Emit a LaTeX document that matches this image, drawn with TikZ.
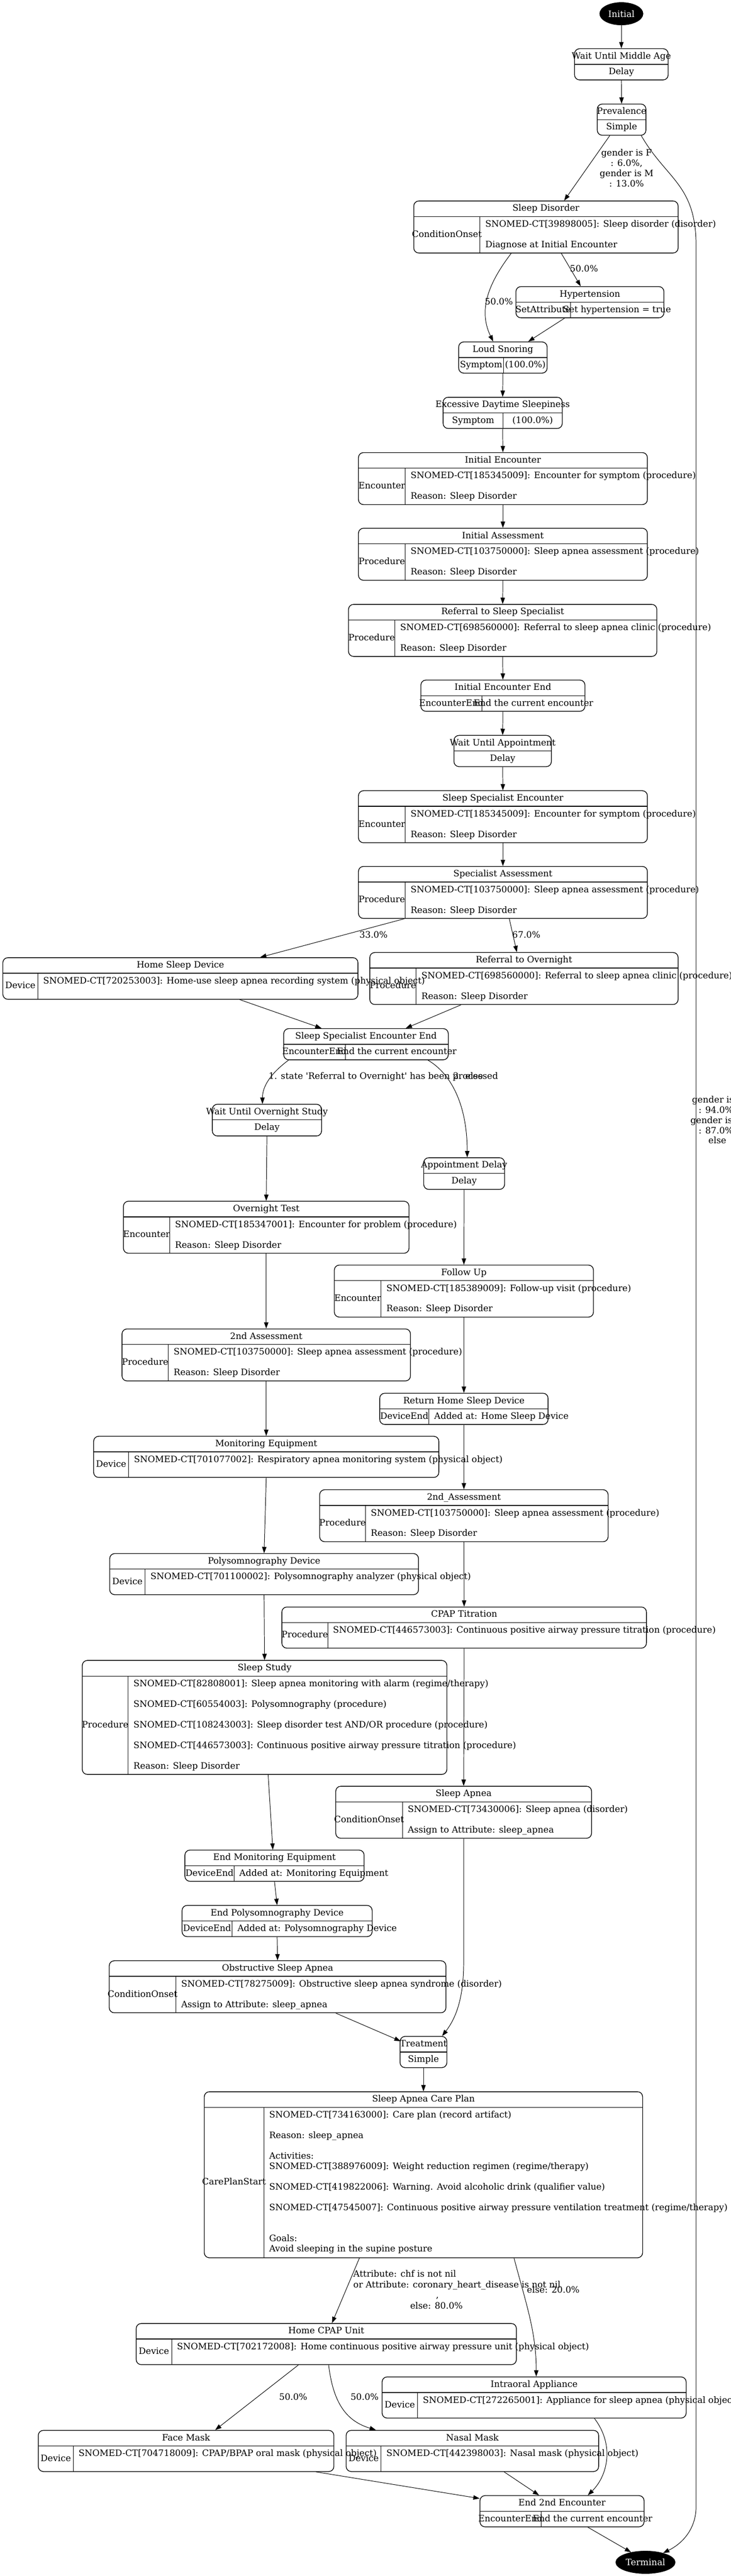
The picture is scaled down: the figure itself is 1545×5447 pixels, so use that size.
\documentclass[tikz,border=0pt]{standalone}
\usepackage{fontspec}
\setmainfont{DejaVu Serif}
\usetikzlibrary{arrows.meta,shapes.geometric,calc}
\tikzset{
 recbox/.style={draw, line width=1.1pt, rounded corners=8pt, inner sep=0pt},
 divline/.style={line width=1.1pt},
 vline/.style={line width=0.8pt},
 txt/.style={inner sep=0pt, text height=10.5pt, text depth=3pt},
 lbl/.style={inner sep=0pt, align=center},
 edge/.style={draw, line width=0.8pt, -{Triangle[length=10pt,width=7pt]}},
 termnode/.style={ellipse, draw=black, fill=black, text=white, inner sep=0pt, minimum height=36pt},
}
% name x1 y1 x2 y2 title body
\newcommand\recA[7]{%
 \node[recbox, minimum width={(#4-#2)*0.75pt}, minimum height={(#5-#3)*0.75pt}] (#1) at ({(#2+#4)/2},{(#3+#5)/2}) {};
 \draw[divline] (#2,{#3+33}) -- (#4,{#3+33});
 \node[txt] at ({(#2+#4)/2},{#3+16.5}) {#6};
 \node[txt] at ({(#2+#4)/2},{(#3+33+#5)/2}) {#7};
}
% name x1 y1 x2 y2 xdiv title left right(centred)
\newcommand\recB[9]{%
 \node[recbox, minimum width={(#4-#2)*0.75pt}, minimum height={(#5-#3)*0.75pt}] (#1) at ({(#2+#4)/2},{(#3+#5)/2}) {};
 \draw[divline] (#2,{#3+33}) -- (#4,{#3+33});
 \draw[vline] (#6,{#3+33}) -- (#6,#5);
 \node[txt] at ({(#2+#4)/2},{#3+16.5}) {#7};
 \node[txt] at ({(#2+#6)/2},{(#3+33+#5)/2}) {#8};
 \node[txt] at ({(#6+#4)/2},{(#3+33+#5)/2}) {#9};
}
% name x1 y1 x2 y2 xdiv title left rightlines(left aligned)
\newcommand\recC[9]{%
 \node[recbox, minimum width={(#4-#2)*0.75pt}, minimum height={(#5-#3)*0.75pt}] (#1) at ({(#2+#4)/2},{(#3+#5)/2}) {};
 \draw[divline] (#2,{#3+33}) -- (#4,{#3+33});
 \draw[vline] (#6,{#3+33}) -- (#6,#5);
 \node[txt] at ({(#2+#4)/2},{#3+16.5}) {#7};
 \node[txt] at ({(#2+#6)/2},{(#3+33+#5)/2}) {#8};
 \foreach \rline [count=\ri from 0] in {#9} {
   \node[txt, anchor=west] at ({#6+11},{#3+50+\ri*21.75}) {\rline};
 }
}
\begin{document}
\begin{tikzpicture}[x=0.75pt, y=-0.75pt, font=\fontsize{14pt}{16.3pt}\selectfont]
\useasboundingbox (0,0) rectangle (1545,5447);
\fill[white] (0,0) rectangle (1545,5447);

\node[termnode, minimum width=69pt] (Init) at (1314,29) {Initial};
\recA{Wmid}{1215}{103}{1413}{169}{Wait Until Middle Age}{Delay}
\recA{Prev}{1263}{220}{1366}{286}{Prevalence}{Simple}
\recC{SD}{875}{425}{1434}{535}{1015}{Sleep Disorder}{ConditionOnset}{{SNOMED-CT[39898005]: Sleep disorder (disorder)},{},{Diagnose at Initial Encounter}}
\recB{Hyp}{1091}{606}{1404}{672}{1206}{Hypertension}{SetAttribute}{Set hypertension = true}
\recB{LS}{970}{723}{1157}{789}{1065}{Loud Snoring}{Symptom}{(100.0\%)}
\recB{EDS}{937}{840}{1189}{906}{1064}{Excessive Daytime Sleepiness}{Symptom}{(100.0\%)}
\recC{IE}{758}{957}{1369}{1067}{857}{Initial Encounter}{Encounter}{{SNOMED-CT[185345009]: Encounter for symptom (procedure)},{},{Reason: Sleep Disorder}}
\recC{IA}{758}{1117}{1369}{1227}{857}{Initial Assessment}{Procedure}{{SNOMED-CT[103750000]: Sleep apnea assessment (procedure)},{},{Reason: Sleep Disorder}}
\recC{RSS}{737}{1278}{1389}{1388}{835}{Referral to Sleep Specialist}{Procedure}{{SNOMED-CT[698560000]: Referral to sleep apnea clinic (procedure)},{},{Reason: Sleep Disorder}}
\recB{IEE}{890}{1438}{1237}{1504}{1019}{Initial Encounter End}{EncounterEnd}{End the current encounter}
\recA{WA}{960}{1555}{1166}{1621}{Wait Until Appointment}{Delay}
\recC{SSE}{758}{1672}{1369}{1782}{857}{Sleep Specialist Encounter}{Encounter}{{SNOMED-CT[185345009]: Encounter for symptom (procedure)},{},{Reason: Sleep Disorder}}
\recC{SpA}{758}{1832}{1369}{1942}{857}{Specialist Assessment}{Procedure}{{SNOMED-CT[103750000]: Sleep apnea assessment (procedure)},{},{Reason: Sleep Disorder}}
\recC{HSD}{6}{2025}{757}{2113}{80}{Home Sleep Device}{Device}{{SNOMED-CT[720253003]: Home-use sleep apnea recording system (physical object)}}
\recC{RO}{782}{2014}{1434}{2124}{880}{Referral to Overnight}{Procedure}{{SNOMED-CT[698560000]: Referral to sleep apnea clinic (procedure)},{},{Reason: Sleep Disorder}}
\recB{SSEE}{600}{2175}{948}{2241}{730}{Sleep Specialist Encounter End}{EncounterEnd}{End the current encounter}
\recA{WOS}{449}{2335}{680}{2402}{Wait Until Overnight Study}{Delay}
\recA{AD}{896}{2448}{1067}{2515}{Appointment Delay}{Delay}
\recC{OT}{261}{2540}{865}{2650}{359}{Overnight Test}{Encounter}{{SNOMED-CT[185347001]: Encounter for problem (procedure)},{},{Reason: Sleep Disorder}}
\recC{FU}{707}{2675}{1255}{2785}{806}{Follow Up}{Encounter}{{SNOMED-CT[185389009]: Follow-up visit (procedure)},{},{Reason: Sleep Disorder}}
\recC{SecA}{258}{2810}{868}{2920}{356}{2nd Assessment}{Procedure}{{SNOMED-CT[103750000]: Sleep apnea assessment (procedure)},{},{Reason: Sleep Disorder}}
\recC{RHSD}{803}{2946}{1159}{3012}{907}{Return Home Sleep Device}{DeviceEnd}{{Added at: Home Sleep Device}}
\recC{ME}{198}{3037}{928}{3124}{272}{Monitoring Equipment}{Device}{{SNOMED-CT[701077002]: Respiratory apnea monitoring system (physical object)}}
\recC{SecAu}{676}{3150}{1286}{3260}{773}{2nd\_Assessment}{Procedure}{{SNOMED-CT[103750000]: Sleep apnea assessment (procedure)},{},{Reason: Sleep Disorder}}
\recC{PD}{232}{3285}{885}{3372}{307}{Polysomnography Device}{Device}{{SNOMED-CT[701100002]: Polysomnography analyzer (physical object)}}
\recC{CPAP}{596}{3398}{1367}{3485}{693}{CPAP Titration}{Procedure}{{SNOMED-CT[446573003]: Continuous positive airway pressure titration (procedure)}}
\recC{SS}{174}{3511}{945}{3752}{271}{Sleep Study}{Procedure}{{SNOMED-CT[82808001]: Sleep apnea monitoring with alarm (regime/therapy)},{},{SNOMED-CT[60554003]: Polysomnography (procedure)},{},{SNOMED-CT[108243003]: Sleep disorder test AND/OR procedure (procedure)},{},{SNOMED-CT[446573003]: Continuous positive airway pressure titration (procedure)},{},{Reason: Sleep Disorder}}
\recC{SAp}{710}{3777}{1251}{3887}{851}{Sleep Apnea}{ConditionOnset}{{SNOMED-CT[73430006]: Sleep apnea (disorder)},{},{Assign to Attribute: sleep\_apnea}}
\recC{EME}{391}{3912}{770}{3978}{495}{End Monitoring Equipment}{DeviceEnd}{{Added at: Monitoring Equipment}}
\recC{EPD}{385}{4029}{787}{4095}{491}{End Polysomnography Device}{DeviceEnd}{{Added at: Polysomnography Device}}
\recC{OSA}{231}{4146}{943}{4256}{372}{Obstructive Sleep Apnea}{ConditionOnset}{{SNOMED-CT[78275009]: Obstructive sleep apnea syndrome (disorder)},{},{Assign to Attribute: sleep\_apnea}}
\recA{Tr}{846}{4306}{945}{4372}{Treatment}{Simple}
\recC{CP}{432}{4423}{1359}{4774}{558}{Sleep Apnea Care Plan}{CarePlanStart}{{SNOMED-CT[734163000]: Care plan (record artifact)},{},{Reason: sleep\_apnea},{},{Activities:},{SNOMED-CT[388976009]: Weight reduction regimen (regime/therapy)},{},{SNOMED-CT[419822006]: Warning. Avoid alcoholic drink (qualifier value)},{},{SNOMED-CT[47545007]: Continuous positive airway pressure ventilation treatment (regime/therapy)},{},{},{Goals:},{Avoid sleeping in the supine posture}}
\recC{HC}{288}{4913}{1092}{5000}{363}{Home CPAP Unit}{Device}{{SNOMED-CT[702172008]: Home continuous positive airway pressure unit (physical object)}}
\recC{IOA}{808}{5026}{1451}{5113}{883}{Intraoral Appliance}{Device}{{SNOMED-CT[272265001]: Appliance for sleep apnea (physical object)}}
\recC{FM}{81}{5139}{706}{5226}{155}{Face Mask}{Device}{{SNOMED-CT[704718009]: CPAP/BPAP oral mask (physical object)}}
\recC{NM}{732}{5139}{1266}{5226}{806}{Nasal Mask}{Device}{{SNOMED-CT[442398003]: Nasal mask (physical object)}}
\recB{E2}{1015}{5277}{1362}{5343}{1144}{End 2nd Encounter}{EncounterEnd}{End the current encounter}
\node[termnode, minimum width=94.5pt] (Term) at (1365,5418) {Terminal};

% connectors
\draw[edge] (Init.south) -- (Wmid.north);
\draw[edge] (Wmid.south) -- (Prev.north);
\draw[edge] ($(Prev.south)+(-25,0)$) -- ($(SD.north)+(38.5,0)$);
\draw[edge] ($(Prev.south)+(41.5,0)$) .. controls (1410,380) and (1472,390) .. (1472,520) -- (1472,5300) .. controls (1472,5350) and (1440,5380) .. (Term.28);
\draw[edge] ($(SD.south)+(-73.5,0)$) .. controls (1040,590) and (1008,650) .. ($(LS.north)+(-20.5,0)$);
\draw[edge] ($(SD.south)+(32.5,0)$) -- ($(Hyp.north)+(-19.5,0)$);
\draw[edge] ($(Hyp.south)+(-53.5,0)$) -- ($(LS.north)+(53.5,0)$);
\draw[edge] (LS.south) -- (EDS.north);
\draw[edge] (EDS.south) -- (IE.north);
\draw[edge] (IE.south) -- (IA.north);
\draw[edge] (IA.south) -- (RSS.north);
\draw[edge] (RSS.south) -- (IEE.north);
\draw[edge] (IEE.south) -- (WA.north);
\draw[edge] (WA.south) -- (SSE.north);
\draw[edge] (SSE.south) -- (SpA.north);
\draw[edge] ($(SpA.south)+(-208.5,0)$) -- ($(HSD.north)+(168.5,0)$);
\draw[edge] ($(SpA.south)+(13.5,0)$) -- ($(RO.north)+(-15,0)$);
\draw[edge] ($(HSD.south)+(125.5,0)$) -- ($(SSEE.north)+(-94,0)$);
\draw[edge] ($(RO.south)+(-133,0)$) -- ($(SSEE.north)+(84,0)$);
\draw[edge] ($(SSEE.south)+(-164,0)$) .. controls (575,2268) and (555,2295) .. ($(WOS.north)+(-9.5,0)$);
\draw[edge] ($(SSEE.south)+(131,0)$) .. controls (950,2268) and (988,2330) .. ($(AD.north)+(6.5,0)$);
\draw[edge] (WOS.south) -- (OT.north);
\draw[edge] (AD.south) -- (FU.north);
\draw[edge] (OT.south) -- (SecA.north);
\draw[edge] (FU.south) -- (RHSD.north);
\draw[edge] (SecA.south) -- (ME.north);
\draw[edge] (RHSD.south) -- (SecAu.north);
\draw[edge] (ME.south) -- (PD.north);
\draw[edge] (SecAu.south) -- (CPAP.north);
\draw[edge] (PD.south) -- (SS.north);
\draw[edge] (CPAP.south) -- (SAp.north);
\draw[edge] ($(SS.south)+(7.5,0)$) -- ($(EME.north)+(-3.5,0)$);
\draw[edge] (SAp.south) -- (980.5,4150) .. controls (980.5,4230) and (962,4270) .. ($(Tr.north)+(39.5,0)$);
\draw[edge] (EME.south) -- (EPD.north);
\draw[edge] (EPD.south) -- (OSA.north);
\draw[edge] ($(OSA.south)+(123,0)$) -- ($(Tr.west)+(2,-23)$);
\draw[edge] (Tr.south) -- (CP.north);
\draw[edge] ($(CP.south)+(-135.5,0)$) -- ($(HC.north)+(12,0)$);
\draw[edge] ($(CP.south)+(191.5,0)$) .. controls (1112,4870) and (1134,4930) .. ($(IOA.north)+(4.5,0)$);
\draw[edge] ($(HC.south)+(-59,0)$) -- ($(FM.north)+(61.5,0)$);
\draw[edge] ($(HC.south)+(5,0)$) .. controls (705,5085) and (735,5120) .. ($(NM.north)+(-204,0)$);
\draw[edge] ($(IOA.south)+(127.5,0)$) .. controls (1300,5170) and (1285,5235) .. ($(E2.north)+(54.5,0)$);
\draw[edge] ($(FM.south)+(274.5,0)$) -- ($(E2.west)+(0,-27)$);
\draw[edge] ($(NM.south)+(67,0)$) -- ($(E2.north)+(-48.5,0)$);
\draw[edge] ($(E2.south)+(54.5,0)$) -- (Term.145);

% connector labels
\node[lbl] (lgA) at (1325,355) {gender is F\\: 6.0\%,\\gender is M\\: 13.0\%};
\node[lbl] (lgB) at (1517,2368) {gender is F\\: 94.0\%,\\gender is M\\: 87.0\%,\\else};
\node[txt] (lp1) at (1055,639) {50.0\%};
\node[txt] (lp2) at (1235,570) {50.0\%};
\node[txt] (lp3) at (790,1978) {33.0\%};
\node[txt] (lp4) at (1113,1978) {67.0\%};
\node[txt, anchor=west] (lp5) at (568,2277) {1. state \textquotesingle Referral to Overnight\textquotesingle\ has been processed};
\node[txt] (lp6) at (990,2277) {2. else};
\node[txt, anchor=west] (la1) at (747,4810) {Attribute: chf is not nil};
\node[txt, anchor=west] (la2) at (747,4832) {or Attribute: coronary\_heart\_disease is not nil};
\node[txt] (la3) at (925,4854) {,};
\node[txt] (la4) at (923,4877) {else: 80.0\%};
\node[txt] (lp7) at (1170,4843) {else: 20.0\%};
\node[txt] (lp8) at (620,5070) {50.0\%};
\node[txt] (lp9) at (771,5070) {50.0\%};
\end{tikzpicture}
\end{document}
